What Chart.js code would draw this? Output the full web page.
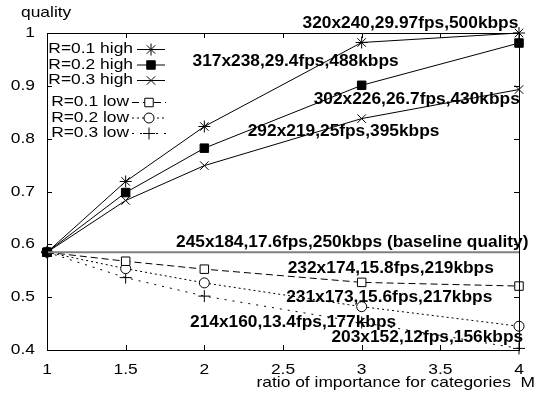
<!DOCTYPE html>
<html>
<head>
<meta charset="utf-8">
<script src="https://cdn.jsdelivr.net/npm/chart.js@4.4.1/dist/chart.umd.min.js"></script>
<style>
  html, body { margin: 0; padding: 0; background: #fff; }
  #wrap { width: 547px; height: 396px; position: relative; }
</style>
</head>
<body>
<div id="wrap"><canvas id="qualityChart"></canvas></div>
<script>
// ratio of importance M (x axis)
const ratios = [1, 1.5, 2, 3, 4];

// quality per series
const r01High = [0.585, 0.719, 0.823, 0.982, 1.0];
const r02High = [0.585, 0.698, 0.782, 0.901, 0.981];
const r03High = [0.585, 0.683, 0.749, 0.838, 0.893];
const r01Low = [0.585, 0.568, 0.553, 0.528, 0.521];
const r02Low = [0.585, 0.554, 0.527, 0.482, 0.445];
const r03Low = [0.585, 0.537, 0.502, 0.452, 0.403];

const baselineQuality = 0.585;

const seriesNames = ["R=0.1 high", "R=0.2 high", "R=0.3 high", "R=0.1 low", "R=0.2 low", "R=0.3 low"];

// text notes on the plot, in data coordinates
const noteText = [
  "320x240,29.97fps,500kbps",
  "317x238,29.4fps,488kbps",
  "302x226,26.7fps,430kbps",
  "292x219,25fps,395kbps",
  "245x184,17.6fps,250kbps (baseline quality)",
  "232x174,15.8fps,219kbps",
  "231x173,15.6fps,217kbps",
  "214x160,13.4fps,177kbps",
  "203x152,12fps,156kbps"
];
const noteX = [3.31, 2.58, 3.35, 2.885, 2.94, 3.185, 3.175, 2.564, 3.417];
const noteY = [1.018, 0.946, 0.874, 0.813, 0.604, 0.555, 0.500, 0.453, 0.424];

const yTitle = "quality";
const xTitle = "ratio of importance for categories  M";

function pts(vals) {
  return vals.map((v, i) => ({x: ratios[i], y: v}));
}

const styles = [
  {pointStyle: 'star', radius: 6, fill: '#000', dash: []},
  {pointStyle: 'rect', radius: 6, fill: '#000', dash: []},
  {pointStyle: 'crossRot', radius: 6, fill: '#000', dash: []},
  {pointStyle: 'rect', radius: 6, fill: '#fff', dash: [7, 4]},
  {pointStyle: 'circle', radius: 5, fill: '#fff', dash: [2, 3]},
  {pointStyle: 'cross', radius: 6, fill: '#000', dash: [2, 6]}
];

const allSeries = [r01High, r02High, r03High, r01Low, r02Low, r03Low];

const datasets = allSeries.map((vals, i) => ({
  label: seriesNames[i],
  data: pts(vals),
  borderColor: '#000',
  backgroundColor: styles[i].fill,
  borderWidth: 1,
  borderDash: styles[i].dash,
  pointStyle: styles[i].pointStyle,
  pointRadius: styles[i].radius,
  pointBorderWidth: 1,
  pointBorderColor: '#000',
  pointBackgroundColor: styles[i].fill,
  tension: 0,
  clip: false
}));

datasets.unshift({
  label: 'baseline',
  data: [{x: ratios[0], y: baselineQuality}, {x: ratios[ratios.length - 1], y: baselineQuality}],
  borderColor: '#808080',
  borderWidth: 2,
  pointRadius: 0,
  clip: false
});

const FONT = '"Liberation Sans", Arial, sans-serif';
const STRETCH = 1.16;   // the original text is wider than it is tall

function wideText(ctx, s, x, y, font, align, sx) {
  ctx.save();
  ctx.font = font;
  ctx.textAlign = align;
  ctx.textBaseline = 'middle';
  ctx.translate(x, y);
  ctx.scale(sx, 1);
  ctx.fillText(s, 0, 0);
  ctx.restore();
}

const framePlugin = {
  id: 'frame',
  afterDatasetsDraw(chart) {
    const ctx = chart.ctx;
    const a = chart.chartArea;
    const xs = chart.scales.x, ys = chart.scales.y;
    ctx.save();
    ctx.strokeStyle = '#000';
    ctx.fillStyle = '#000';
    ctx.lineWidth = 1;
    ctx.setLineDash([]);
    ctx.strokeRect(Math.round(a.left) + 0.5, Math.round(a.top) + 0.5,
      Math.round(a.right - a.left), Math.round(a.bottom - a.top));
    ctx.beginPath();
    xs.ticks.forEach(t => {
      const px = Math.round(xs.getPixelForValue(t.value)) + 0.5;
      ctx.moveTo(px, a.bottom); ctx.lineTo(px, a.bottom - 5);
      ctx.moveTo(px, a.top); ctx.lineTo(px, a.top + 5);
    });
    ys.ticks.forEach(t => {
      const py = Math.round(ys.getPixelForValue(t.value)) + 0.5;
      ctx.moveTo(a.left, py); ctx.lineTo(a.left + 5, py);
      ctx.moveTo(a.right, py); ctx.lineTo(a.right - 5, py);
    });
    ctx.stroke();

    // tick labels
    const tickFont = '15px ' + FONT;
    xs.ticks.forEach(t => {
      wideText(ctx, String(+t.value.toFixed(1)), xs.getPixelForValue(t.value), a.bottom + 20, tickFont, 'center', STRETCH);
    });
    ys.ticks.forEach(t => {
      wideText(ctx, String(+t.value.toFixed(1)), a.left - 12, ys.getPixelForValue(t.value), tickFont, 'right', STRETCH);
    });

    // notes
    noteText.forEach((s, i) => {
      wideText(ctx, s, xs.getPixelForValue(noteX[i]), ys.getPixelForValue(noteY[i]),
        'bold 16.5px ' + FONT, 'center', 1.05);
    });

    // axis titles
    wideText(ctx, yTitle, 21, 13, tickFont, 'left', STRETCH);
    wideText(ctx, xTitle, 535, 383, tickFont, 'right', STRETCH);

    // legend (two groups: high, low)
    const rowY = [49, 64.5, 80, 102, 117.5, 133];
    seriesNames.forEach((name, i) => {
      const y = rowY[i];
      const low = i >= 3;
      const textRight = low ? 129 : 133;
      const sampleL = low ? 132 : 137, sampleR = low ? 166 : 165;
      ctx.fillStyle = '#000';
      wideText(ctx, name, textRight, y, tickFont, 'right', STRETCH);
      ctx.beginPath();
      ctx.setLineDash(styles[i].dash);
      ctx.moveTo(sampleL, y + 0.5); ctx.lineTo(sampleR, y + 0.5);
      ctx.stroke();
      ctx.setLineDash([]);
      ctx.fillStyle = styles[i].fill;
      Chart.helpers.drawPoint(ctx, {
        pointStyle: styles[i].pointStyle, radius: styles[i].radius, rotation: 0, borderWidth: 1
      }, (sampleL + sampleR) / 2, y + 0.5);
    });
    ctx.restore();
  }
};

new Chart(document.getElementById('qualityChart'), {
  type: 'line',
  data: {datasets: datasets},
  plugins: [framePlugin],
  options: {
    responsive: true,
    maintainAspectRatio: false,
    animation: false,
    layout: {padding: {top: 33, right: 28, left: 0, bottom: 0}},
    plugins: {legend: {display: false}, tooltip: {enabled: false}},
    scales: {
      x: {
        type: 'linear',
        min: 1, max: 4,
        grid: {display: false, drawTicks: false},
        border: {display: false},
        ticks: {stepSize: 0.5, display: false},
        afterFit: (scale) => { scale.height = 46; }
      },
      y: {
        min: 0.4, max: 1,
        grid: {display: false, drawTicks: false},
        border: {display: false},
        ticks: {stepSize: 0.1, display: false},
        afterFit: (scale) => { scale.width = 47; }
      }
    }
  }
});
</script>
</body>
</html>
